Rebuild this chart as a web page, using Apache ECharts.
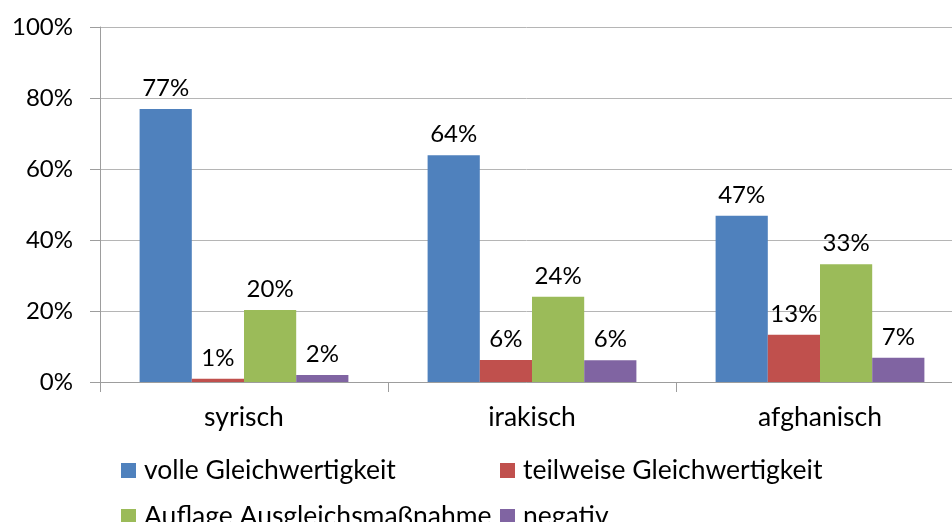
<!DOCTYPE html>
<html>
<head>
<meta charset="utf-8">
<script src="https://cdn.jsdelivr.net/npm/echarts@6/dist/echarts.min.js"></script>
<style>
  html, body { margin: 0; padding: 0; background: #fff; }
  #main { width: 952px; height: 522px; }
</style>
</head>
<body>
<div id="main"></div>
<script>
// Daten aus dem Diagramm (Anteile in %)
const categories = ['syrisch', 'irakisch', 'afghanisch'];
const seriesNames = ['volle Gleichwertigkeit', 'teilweise Gleichwertigkeit', 'Auflage Ausgleichsmaßnahme', 'negativ'];
const volle = [76.9, 63.9, 46.8];
const teilweise = [0.9, 6.2, 13.3];
const auflage = [20.3, 24.0, 33.2];
const negativ = [2.0, 6.1, 6.8];
const yTicks = [0, 20, 40, 60, 80, 100];

const colors = ['#4f81bd', '#c0504d', '#9bbb59', '#8064a2'];
const FONT = 'Lato';
const FS = 24;      // Zahlen
const FS_TXT = 26.5; // Text

const chart = echarts.init(document.getElementById('main'));

const mkSeries = (name, data, color) => ({
    name: name,
    type: 'bar',
    data: data,
    barGap: 0,
    barCategoryGap: '27.5%',
    itemStyle: { color: color },
    label: {
        show: true,
        position: 'top',
        distance: 9,
        color: '#000',
        fontFamily: FONT,
        fontSize: FS,
        formatter: p => Math.round(p.value) + '%'
    }
});

// Legende: 2x2, jede Zelle einzeln platziert
const legendPos = [[121, 457], [500, 457], [121, 503], [500, 503]];
const legends = seriesNames.map((n, i) => ({
    left: legendPos[i][0],
    top: legendPos[i][1],
    padding: 0,
    itemWidth: 15,
    itemHeight: 15,
    icon: 'rect',
    data: [n],
    textStyle: { fontFamily: FONT, fontSize: FS_TXT, color: '#000', padding: [0, 0, 0, 3] }
}));

chart.setOption({
    animation: false,
    grid: { left: 100, top: 27, width: 864, bottom: 140, outerBoundsMode: 'none' },
    legend: legends,
    xAxis: {
        type: 'category',
        data: categories,
        axisLine: { lineStyle: { color: '#9d9d9d', width: 1 } },
        axisTick: { show: true, length: 10, lineStyle: { color: '#9d9d9d' } },
        axisLabel: { color: '#000', fontFamily: FONT, fontSize: FS_TXT, margin: 22 }
    },
    yAxis: {
        type: 'value',
        min: yTicks[0],
        max: yTicks[yTicks.length - 1],
        interval: 20,
        axisLine: { show: true, lineStyle: { color: '#9d9d9d', width: 1 } },
        axisTick: { show: true, length: 10, lineStyle: { color: '#9d9d9d' } },
        splitLine: { show: true, lineStyle: { color: '#b5b5b5', width: 1 } },
        axisLabel: { color: '#000', fontFamily: FONT, fontSize: FS, margin: 27, formatter: '{value}%' }
    },
    series: [
        mkSeries(seriesNames[0], volle, colors[0]),
        mkSeries(seriesNames[1], teilweise, colors[1]),
        mkSeries(seriesNames[2], auflage, colors[2]),
        mkSeries(seriesNames[3], negativ, colors[3])
    ]
});
</script>
</body>
</html>
